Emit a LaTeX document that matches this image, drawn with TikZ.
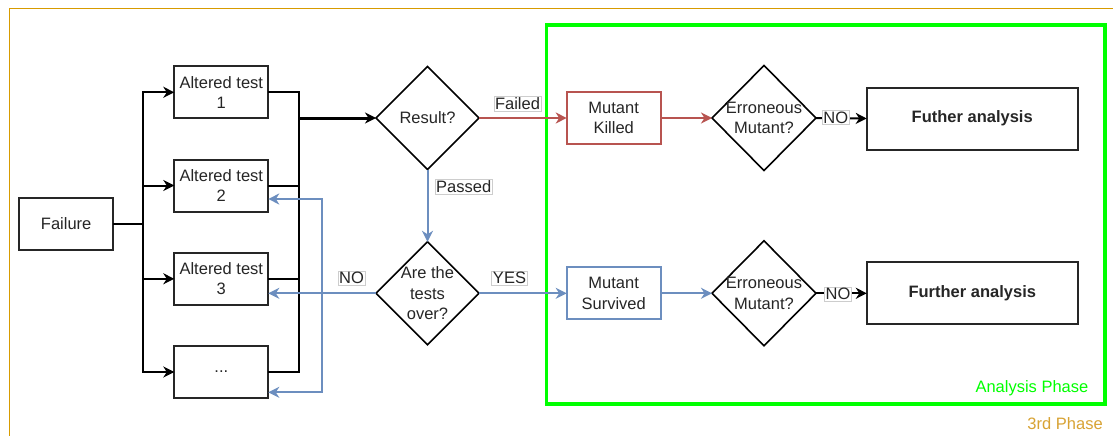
\documentclass[tikz,border=0pt]{standalone}
\usepackage{fontspec}
\setmainfont{Liberation Sans}
\usetikzlibrary{shapes.geometric,arrows.meta,calc}

\definecolor{ink}{RGB}{38,38,38}
\definecolor{killred}{HTML}{B85450}
\definecolor{survblue}{HTML}{6C8EBF}
\definecolor{phasegreen}{HTML}{00FF00}
\definecolor{phaseorange}{HTML}{D79B00}
\definecolor{phasetext}{HTML}{D8A334}
\definecolor{tagborder}{RGB}{205,205,205}

\begin{document}
\begin{tikzpicture}[x=1pt,y=-1pt,
  font=\fontsize{16.5}{20.5}\selectfont,
  every node/.style={text=ink, outer sep=0pt},
  box/.style={draw=ink, line width=2pt, minimum width=94pt, minimum height=52pt,
              inner sep=0pt, align=center},
  bigbox/.style={draw=ink, line width=2pt, minimum width=211pt, minimum height=62pt,
                 inner sep=0pt, align=center, font=\fontsize{16.5}{20.5}\selectfont\bfseries},
  dec/.style={diamond, draw=black, line width=1.6pt, inner sep=0pt},
  dectext/.style={align=center, text=ink},
  tag/.style={fill=white, draw=tagborder, line width=0.6pt, inner sep=1.2pt},
  tip/.style={-{Stealth[length=11pt,width=11pt,inset=3.5pt]}},
  blk/.style={draw=black, line width=2pt},
  red/.style={draw=killred, line width=2pt},
  blu/.style={draw=survblue, line width=2pt}
]
\useasboundingbox (0,0) rectangle (1113,436);
\fill[white] (0,0) rectangle (1113,436);

% outer phase frame (runs off the page on the right and bottom)
\draw[phaseorange, line width=1pt] (9.5,436) -- (9.5,8.3) -- (1113,8.3);
\node[anchor=east, text=phasetext, inner sep=0pt] (phase3) at (1102.7,423.3) {3rd Phase};

% analysis phase frame
\draw[phasegreen, line width=3.5pt] (546.7,25) rectangle (1105,404);
\node[anchor=east, text=phasegreen, inner sep=0pt] (aphase) at (1088.3,388.3) {Analysis Phase};

% failure and altered tests
\node[box] (failure) at (66.2,223.8) {Failure};
\node[box] (t1) at (221.3,92.3)  {Altered test\\1};
\node[box] (t2) at (221.3,185.5) {Altered test\\2};
\node[box] (t3) at (221.3,278.8) {Altered test\\3};
\node[box] (t4) at (221.3,372)   {...};

% decisions
\node[dec, minimum width=103pt, minimum height=103pt] (result) at (427.5,118) {};
\node[dectext] (resultt) at (result) {Result?};
\node[dec, minimum width=103pt, minimum height=103pt] (over) at (427.5,293.3) {};
\node[dectext] (overt) at (over) {Are the\\tests\\over?};

% outcomes
\node[box, draw=killred] (killed) at (613.7,118) {Mutant\\Killed};
\node[box, draw=survblue] (survived) at (613.7,293.3) {Mutant\\Survived};

\node[dec, minimum width=104pt, minimum height=105pt] (err1) at (764,118) {};
\node[dectext] (err1t) at (err1) {Erroneous\\Mutant?};
\node[dec, minimum width=104pt, minimum height=105pt] (err2) at (764,293.3) {};
\node[dectext] (err2t) at (err2) {Erroneous\\Mutant?};

\node[bigbox] (fa1) at (972.2,118.5) {Futher analysis};
\node[bigbox] (fa2) at (972.3,293.3) {Further analysis};

% fan out from the failure
\foreach \t in {t1,t2,t3,t4}
  \draw[blk, tip] (failure.east) -- ++(30.1,0) |- (\t.west);

% gather the tests into the result check
\coordinate (rbus) at (299,118);
\foreach \t in {t1,t2,t3,t4}
  \draw[blk] (\t.east) -| (rbus);
\draw[blk, line width=3pt, tip] (rbus) -- (result.west);

% result outcomes
\draw[red, tip] (result.east) -- (killed.west);
\node[tag] (lfailed) at (517.5,104) {Failed};
\draw[blu, tip] (result.south) -- (over.north);
\node[tag, anchor=west] (lpassed) at (435,186.7) {Passed};

% tests over?
\draw[blu, tip] (over.east) -- (survived.west);
\node[tag] (lyes) at (509.5,278.3) {YES};
\coordinate (nojoin) at (321.7,293.3);
\draw[blu, tip] (over.west) -- (over.west -| t3.east);
\draw[blu, tip] (nojoin) |- ([yshift=-13.5pt]t2.east);
\draw[blu, tip] (nojoin) |- ([yshift=-20.3pt]t4.east);
\node[tag] (lno) at (351.5,278.3) {NO};

% analysis rows
\draw[red, tip] (killed.east) -- (err1.west);
\draw[blk, tip] (err1.east) -- (fa1.west);
\node[tag] (lno1) at (835.7,117.5) {NO};

\draw[blu, tip] (survived.east) -- (err2.west);
\draw[blk, tip] (err2.east) -- (fa2.west);
\node[tag] (lno2) at (838,294) {NO};
\end{tikzpicture}
\end{document}
